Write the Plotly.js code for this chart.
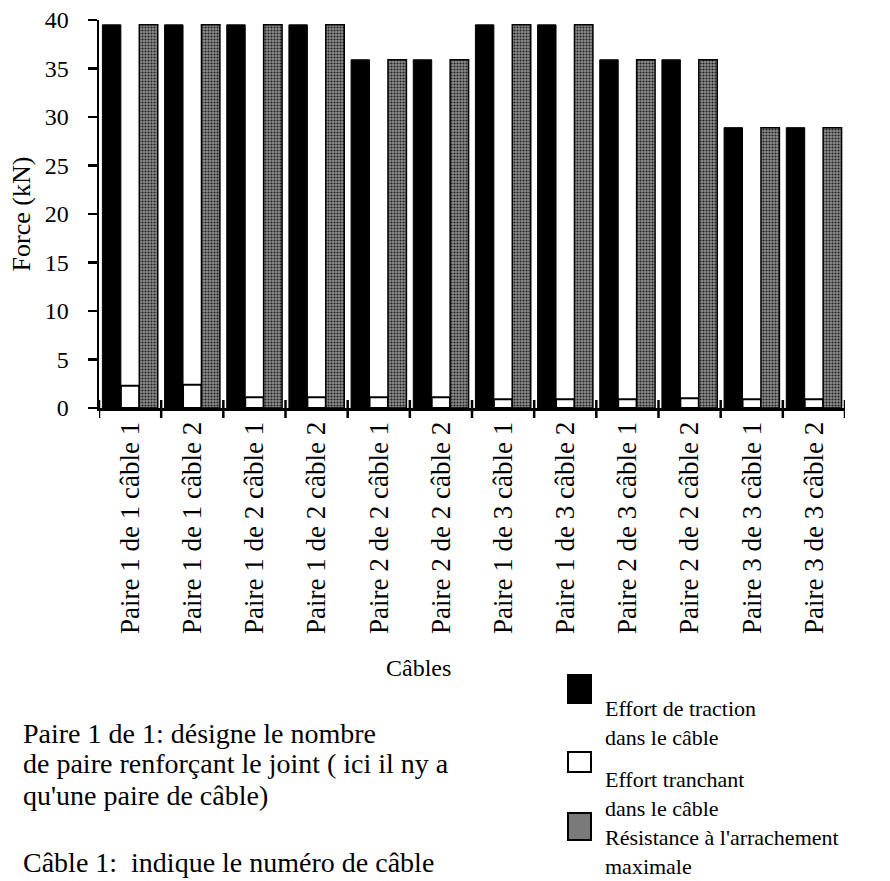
<!DOCTYPE html>
<html>
<head>
<meta charset="utf-8">
<script src="https://cdn.plot.ly/plotly-3.0.1.min.js"></script>
<style>
html,body{margin:0;padding:0;background:#fff;}
#chart{width:890px;height:881px;}
</style>
</head>
<body>
<div id="chart"></div>
<script>
// ---- data ----
var categories = [
  "Paire 1 de 1 câble 1", "Paire 1 de 1 câble 2",
  "Paire 1 de 2 câble 1", "Paire 1 de 2 câble 2",
  "Paire 2 de 2 câble 1", "Paire 2 de 2 câble 2",
  "Paire 1 de 3 câble 1", "Paire 1 de 3 câble 2",
  "Paire 2 de 3 câble 1", "Paire 2 de 2 câble 2",
  "Paire 3 de 3 câble 1", "Paire 3 de 3 câble 2"
];
var effortTraction = [39.5, 39.5, 39.5, 39.5, 35.9, 35.9, 39.5, 39.5, 35.9, 35.9, 28.9, 28.9];
var effortTranchant = [2.3, 2.4, 1.1, 1.1, 1.1, 1.1, 0.9, 0.9, 0.9, 1.0, 0.9, 0.9];
var resistanceMax = [39.5, 39.5, 39.5, 39.5, 35.9, 35.9, 39.5, 39.5, 35.9, 35.9, 28.9, 28.9];
var seriesNames = ["Effort de traction<br>dans le câble", "Effort tranchant<br>dans le câble", "Résistance à l'arrachement<br>maximale"];
var yTicks = [0, 5, 10, 15, 20, 25, 30, 35, 40];

// ---- layout helpers (pixel -> paper) ----
var L = 99, R = 845, T = 20, B = 408, W = 890, H = 881;
function px(x){ return (x - L) / (R - L); }
function py(y){ return (B - y) / (B - T); }
var serif = "Liberation Serif, Times New Roman, serif";

var xIdx = categories.map(function(c, i){ return i; });

var traces = [
  {type:'bar', x:xIdx, y:effortTraction, name:seriesNames[0],
   marker:{color:'#000', line:{color:'#000', width:1}}},
  {type:'bar', x:xIdx, y:effortTranchant, name:seriesNames[1],
   marker:{color:'#fff', line:{color:'#000', width:2}}},
  {type:'bar', x:xIdx, y:resistanceMax, name:seriesNames[2],
   marker:{color:'#8a8a8a', line:{color:'#000', width:1.5},
           pattern:{shape:'.', bgcolor:'#8e8e8e', fgcolor:'#202020', size:3, solidity:0.4}}}
];

var annotations = [];
var shapes = [];
// legend (drawn manually): swatch + two-line label
var legend = [
  {y0:675, y1:703, fill:'#000', textY:723},
  {y0:752, y1:772, fill:'#fff', textY:794},
  {y0:813, y1:840, fill:'#7a7a7a', textY:852}
];
legend.forEach(function(s, i){
  shapes.push({type:'rect', xref:'paper', yref:'paper', x0:px(568), x1:px(591), y0:py(s.y1), y1:py(s.y0),
    fillcolor:s.fill, line:{color:'#000', width:2}, layer:'above'});
  annotations.push({xref:'paper', yref:'paper', x:px(603), y:py(s.textY), xanchor:'left', yanchor:'middle',
    align:'left', text:seriesNames[i], showarrow:false, font:{family:serif, size:22, color:'#000'}});
});
var noteLines = [
  ["Paire 1 de 1: désigne le nombre", 733],
  ["de paire renforçant le joint ( ici il ny a", 764],
  ["qu'une paire de câble)", 795],
  ["Câble 1:  indique le numéro de câble", 862]
];
noteLines.forEach(function(l){
  annotations.push({xref:'paper', yref:'paper', x:px(21), y:py(l[1]), xanchor:'left', yanchor:'middle',
    text:l[0], showarrow:false, font:{family:serif, size:28, color:'#000'}});
});
// x-axis title (placed as in the reference, left of the plot centre)
annotations.push({xref:'paper', yref:'paper', x:px(418), y:py(668), xanchor:'center', yanchor:'middle',
  text:'Câbles', showarrow:false, font:{family:serif, size:24, color:'#000'}});

var layout = {
  width:W, height:H,
  margin:{l:L, r:W-R, t:T, b:H-B, pad:0},
  paper_bgcolor:'#fff', plot_bgcolor:'#fff',
  showlegend:false,
  barmode:'group', bargap:0.11, bargroupgap:0,
  font:{family:serif, color:'#000'},
  xaxis:{
    type:'linear', range:[-0.5, 11.5],
    tickmode:'array', tickvals:xIdx, ticktext:categories,
    tickangle:-90, tickfont:{family:serif, size:27, color:'#000'},
    showgrid:false, zeroline:false,
    showline:true, linecolor:'#000', linewidth:3,
    ticks:'',
    automargin:false
  },
  yaxis:{
    range:[0, 40], tickmode:'array', tickvals:yTicks,
    tickfont:{family:serif, size:24, color:'#000'},
    showgrid:false, zeroline:false,
    showline:true, linecolor:'#000', linewidth:2.5,
    ticks:'outside', ticklen:9, tickwidth:2.5, tickcolor:'#000',
    ticklabelstandoff:14,
    title:{text:'Force (kN)', font:{family:serif, size:26, color:'#000'}, standoff:7},
    automargin:false
  },
  shapes:shapes,
  annotations:annotations
};

// boundary ticks on the x axis (category separators), crossing the axis line
for (var i = 0; i <= categories.length; i++) {
  shapes.push({type:'line', xref:'x', yref:'paper', x0:i-0.5, x1:i-0.5, y0:py(400), y1:py(418),
    line:{color:'#000', width:2.5}, layer:'above'});
}

Plotly.newPlot('chart', traces, layout, {staticPlot:true, displayModeBar:false});
</script>
</body>
</html>
